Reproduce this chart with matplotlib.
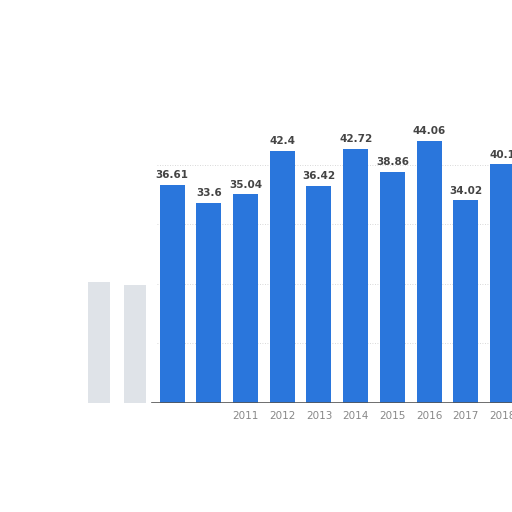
import matplotlib.pyplot as plt

# 数据
years = [2009, 2010, 2011, 2012, 2013, 2014, 2015, 2016, 2017, 2018]
values = [36.61, 33.6, 35.04, 42.4, 36.42, 42.72, 38.86, 44.06, 34.02, 40.1]
value_labels = ['36.61', '33.6', '35.04', '42.4', '36.42', '42.72', '38.86', '44.06', '34.02', '40.1']
tick_labels = ['', '', '2011', '2012', '2013', '2014', '2015', '2016', '2017', '2018']

# 左侧模糊的残影柱子
ghost_years = [2007, 2008]
ghost_values = [20.3, 19.8]

fig = plt.figure(figsize=(5.12, 5.12), dpi=100)
ax = fig.add_axes([0, 109 / 512, 1, 403 / 512])

ax.bar(ghost_years, ghost_values, width=0.6, color='#dfe3e8', zorder=2)
bars = ax.bar(years, values, width=0.68, color='#2a76dc', zorder=3)

for b, lab in zip(bars, value_labels):
    ax.text(b.get_x() + b.get_width() / 2, b.get_height() + 0.8, lab,
            ha='center', va='bottom', fontsize=7.5, fontweight='bold', color='#444444')

ax.set_xlim(2004.31, 2018.26)
ax.set_ylim(0, 67.7)

# 虚线网格
for g in [10, 20, 30, 40]:
    ax.axhline(g, color='#cccccc', linestyle=(0, (1, 2)), linewidth=0.6, zorder=1,
               xmin=(2008.6 - 2004.31) / (2018.26 - 2004.31))
ax.axhline(0, color='#555555', linewidth=1.2, zorder=4,
           xmin=(2008.45 - 2004.31) / (2018.26 - 2004.31))

ax.set_xticks(years)
ax.set_xticklabels(tick_labels, fontsize=7.5, color='#888888')
ax.tick_params(axis='x', length=0, pad=6)
ax.set_yticks([])
for s in ax.spines.values():
    s.set_visible(False)

fig.savefig('out.png', dpi=100)
